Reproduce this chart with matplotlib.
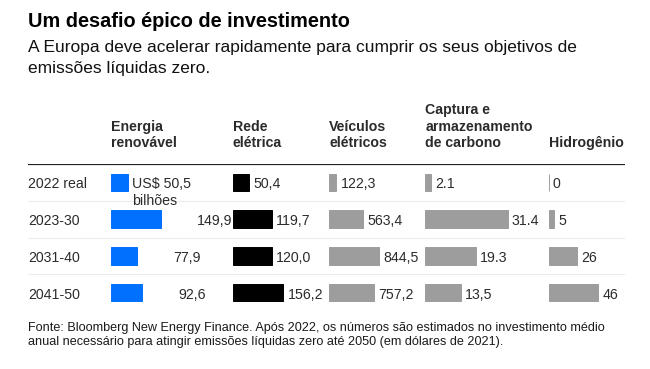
import matplotlib
matplotlib.use("Agg")
import matplotlib.pyplot as plt

# ---------------- data ----------------
periods = ["2022 real", "2023-30", "2031-40", "2041-50"]
columns = ["Energia\nrenovável", "Rede\nelétrica", "Veículos\nelétricos",
           "Captura e\narmazenamento\nde carbono", "Hidrogênio"]
renovavel = [50.5, 149.9, 77.9, 92.6]
rede = [50.4, 119.7, 120.0, 156.2]
veiculos = [122.3, 563.4, 844.5, 757.2]
captura = [2.1, 31.4, 19.3, 13.5]
hidrogenio = [0, 5, 26, 46]
renovavel_labels = ["US$ 50,5\nbilhões", "149,9", "77,9", "92,6"]
rede_labels = ["50,4", "119,7", "120,0", "156,2"]
veiculos_labels = ["122,3", "563,4", "844,5", "757,2"]
captura_labels = ["2.1", "31.4", "19.3", "13,5"]
hidrogenio_labels = ["0", "5", "26", "46"]

title = "Um desafio épico de investimento"
subtitle = ["A Europa deve acelerar rapidamente para cumprir os seus objetivos de",
            "emissões líquidas zero."]
footnote = ["Fonte: Bloomberg New Energy Finance. Após 2022, os números são estimados no investimento médio",
            "anual necessário para atingir emissões líquidas zero até 2050 (em dólares de 2021)."]

# ---------------- style ----------------
W, H = 650, 369
FONT = "Liberation Sans"
plt.rcParams["font.family"] = [FONT, "DejaVu Sans"]

BLUE = "#0070ff"
BLACK = "#000000"
GRAY = "#9d9d9d"
TXT = "#2b2b2b"

def fx(px):
    return px / W

def fy(py):
    return 1 - py / H

fig = plt.figure(figsize=(6.5, 3.69), dpi=100)
fig.patch.set_facecolor("white")

# title / subtitle
fig.text(fx(28.5), fy(26.7), title, fontsize=14.3, fontweight="bold",
         color="black", va="baseline", ha="left")
for i, line in enumerate(subtitle):
    fig.text(fx(28.5), fy(51.7 + 21 * i), line, fontsize=12.5, color="#111111",
             va="baseline", ha="left")
for i, line in enumerate(footnote):
    fig.text(fx(28.5), fy(330.7 + 14.5 * i), line, fontsize=9.1, color="#1a1a1a",
             va="baseline", ha="left")

# table area
top_px, bot_px = 164, 311
left_px, right_px = 28, 625
nrows = len(periods)
rows = list(range(nrows))

bg = fig.add_axes([fx(left_px), fy(bot_px), fx(right_px - left_px),
                   (bot_px - top_px) / H])
bg.set_xlim(0, 1)
bg.set_ylim(nrows - 0.5, -0.5)
bg.axis("off")
bg.axhline(-0.5, color="#222222", lw=1.6, zorder=1)
for b in range(nrows):
    bg.axhline(b + 0.5, color="#ececec", lw=0.8, zorder=1)
for r, p in zip(rows, periods):
    bg.annotate(p, (0, r), xytext=(0, -4.3), textcoords="offset points",
                fontsize=10.2, color=TXT, va="baseline", ha="left")

col_defs = [
    # start px, px per unit, series, labels, color, label offsets (px)
    (111.0, 0.335, renovavel, renovavel_labels, BLUE, [4.5, 36, 36, 36]),
    (232.7, 0.325, rede, rede_labels, BLACK, [4, 4, 4, 4]),
    (329.0, 0.0595, veiculos, veiculos_labels, GRAY, [4.5, 4.5, 4.5, 4.5]),
    (425.3, 2.62, captura, captura_labels, GRAY, [4.5, 4, 4.5, 4]),
    (548.7, 1.08, hidrogenio, hidrogenio_labels, GRAY, [4, 4, 4.5, 4]),
]

header_baseline = 147.0
header_step = 16.3
for (start, scale, vals, labs, color, offs), name in zip(col_defs, columns):
    width_px = 120
    ax = fig.add_axes([fx(start), fy(bot_px), width_px / W,
                       (bot_px - top_px) / H])
    ax.set_xlim(0, width_px / scale)
    ax.set_ylim(nrows - 0.5, -0.5)
    ax.axis("off")
    ax.patch.set_alpha(0)
    ax.barh(rows, vals, height=0.48, color=color, edgecolor=color,
            linewidth=0.7, zorder=2)
    for r, v, lab, off in zip(rows, vals, labs, offs):
        for k, part in enumerate(lab.split("\n")):
            ax.annotate(part, (v, r), xytext=(off * 0.72, -4.3 - 12.0 * k),
                        textcoords="offset points", fontsize=10.2, color=TXT,
                        va="baseline", ha="left", zorder=3)
    lines = name.split("\n")
    n = len(lines)
    for k, line in enumerate(lines):
        fig.text(fx(start), fy(header_baseline - header_step * (n - 1 - k)), line,
                 fontsize=10.2, fontweight="bold", color=TXT,
                 va="baseline", ha="left")

fig.savefig("out.png", dpi=100, facecolor="white")
